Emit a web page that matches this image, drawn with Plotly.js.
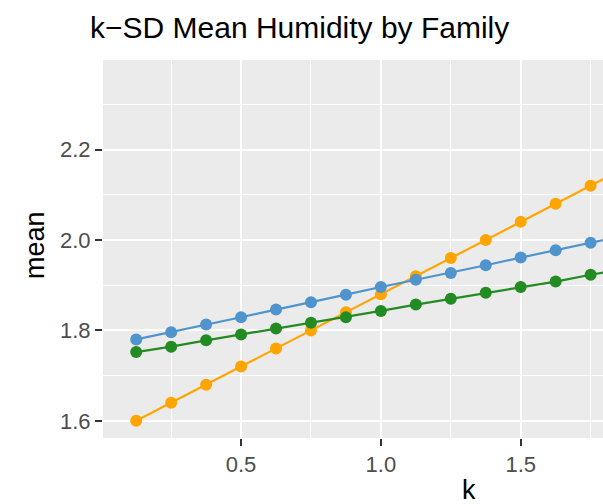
<!DOCTYPE html>
<html>
<head>
<meta charset="utf-8">
<script src="https://cdn.plot.ly/plotly-3.0.1.min.js"></script>
<style>html,body{margin:0;padding:0;background:#fff;}#chart{width:603px;height:504px;}</style>
</head>
<body>
<div id="chart"></div>
<script>
const k = [0.125,0.25,0.375,0.5,0.625,0.75,0.875,1.0,1.125,1.25,1.375,1.5,1.625,1.75,1.875,2.0,2.125,2.25,2.375,2.5];
const seriesNames = ["Family 1", "Family 2", "Family 3"];
const orangeMean = [1.600,1.640,1.680,1.720,1.760,1.800,1.840,1.880,1.920,1.960,2.000,2.040,2.080,2.120,2.160,2.200,2.240,2.280,2.320,2.360];
const blueMean   = [1.780,1.796,1.813,1.829,1.846,1.862,1.879,1.896,1.912,1.927,1.944,1.961,1.977,1.994,2.010,2.027,2.043,2.060,2.076,2.093];
const greenMean  = [1.752,1.764,1.778,1.791,1.804,1.817,1.829,1.843,1.857,1.870,1.883,1.896,1.908,1.923,1.936,1.949,1.962,1.975,1.988,2.001];
const colors = ["#FFA500", "#4F94CD", "#228B22"];
const yTickVals = [1.6, 1.8, 2.0, 2.2];
const yTickText = ["1.6", "1.8", "2.0", "2.2"];
const xTickVals = [0.5, 1.0, 1.5, 2.0, 2.5];
const xTickText = ["0.5", "1.0", "1.5", "2.0", "2.5"];

const seriesVals = [orangeMean, blueMean, greenMean];
const traces = [];
seriesVals.forEach((ys, i) => {
  traces.push({x: k, y: ys, name: seriesNames[i], type: 'scatter', mode: 'lines',
    line: {color: colors[i], width: 2.2}, hoverinfo: 'skip', showlegend: false});
});
seriesVals.forEach((ys, i) => {
  traces.push({x: k, y: ys, name: seriesNames[i], type: 'scatter', mode: 'markers',
    marker: {color: colors[i], size: 12}, showlegend: false});
});

const FONT = 'Liberation Sans, Arial, sans-serif';
const layout = {
  width: 603, height: 504,
  margin: {l: 103, r: 0, t: 60, b: 66, pad: 0},
  paper_bgcolor: '#FFFFFF', plot_bgcolor: '#EBEBEB',
  showlegend: false,
  title: {text: 'k\u2212SD Mean Humidity by Family', font: {family: FONT, size: 30, color: '#000000'},
    xref: 'container', yref: 'container', x: 90/603, xanchor: 'left', y: 1 - 27/504, yanchor: 'middle'},
  xaxis: {
    range: [0.00625, 1.7943], tickvals: xTickVals, ticktext: xTickText,
    showgrid: true, gridcolor: '#FFFFFF', gridwidth: 2, zeroline: false, showline: false,
    ticks: 'outside', ticklen: 7, tickwidth: 2, tickcolor: '#333333',
    tickfont: {family: FONT, size: 22, color: '#4D4D4D'},
    minor: {tickvals: [0.25, 0.75, 1.25, 1.75, 2.25], showgrid: true, gridcolor: '#FFFFFF', gridwidth: 1, ticks: ''},
    fixedrange: true
  },
  yaxis: {
    range: [1.562, 2.398], tickvals: yTickVals, ticktext: yTickText,
    showgrid: true, gridcolor: '#FFFFFF', gridwidth: 2, zeroline: false, showline: false,
    ticks: 'outside', ticklen: 7, tickwidth: 2, tickcolor: '#333333',
    tickfont: {family: FONT, size: 22, color: '#4D4D4D'},
    minor: {tickvals: [1.7, 1.9, 2.1, 2.3], showgrid: true, gridcolor: '#FFFFFF', gridwidth: 1, ticks: ''},
    fixedrange: true
  },
  annotations: [
    {text: 'mean', xref: 'paper', yref: 'paper', x: (35 - 103) / 500, y: (438 - 245) / 378,
      xanchor: 'center', yanchor: 'middle', textangle: -90, showarrow: false,
      font: {family: FONT, size: 27, color: '#000000'}},
    {text: 'k', xref: 'paper', yref: 'paper', x: (469 - 103) / 500, y: (438 - 490) / 378,
      xanchor: 'center', yanchor: 'middle', showarrow: false,
      font: {family: FONT, size: 27, color: '#000000'}}
  ]
};
Plotly.newPlot('chart', traces, layout, {displayModeBar: false, staticPlot: true});
</script>
</body>
</html>
